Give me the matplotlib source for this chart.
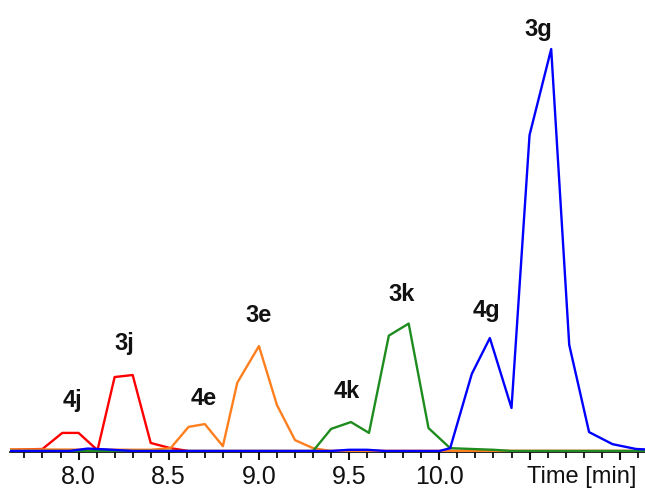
import matplotlib
matplotlib.use("Agg")
import matplotlib.pyplot as plt
from matplotlib.ticker import MultipleLocator, FixedLocator, FixedFormatter

plt.rcParams['font.family'] = ['Liberation Sans', 'DejaVu Sans']

# Extracted ion chromatograms (relative intensity, % of largest peak)
t_red = [7.62, 7.80, 7.91, 8.00, 8.105, 8.20, 8.30, 8.40, 8.51, 8.61, 11.14]
i_red = [0.3, 0.5, 4.5, 4.5, 0.2, 18.4, 18.9, 2.0, 0.7, 0.0, 0.0]

t_orange = [7.62, 8.40, 8.51, 8.61, 8.70, 8.80, 8.88, 9.00, 9.10, 9.20, 9.30, 9.40, 11.14]
i_orange = [0.4, 0.3, 0.7, 6.0, 6.7, 1.2, 17.0, 26.1, 11.4, 2.7, 0.7, 0.0, 0.0]

t_green = [7.62, 9.30, 9.40, 9.51, 9.61, 9.72, 9.83, 9.94, 10.06, 10.30, 10.40, 11.14]
i_green = [0.0, 0.0, 5.5, 7.2, 4.5, 28.7, 31.7, 5.7, 0.7, 0.3, 0.0, 0.0]

t_blue = [7.62, 7.95, 8.05, 8.15, 8.30, 9.40, 9.50, 9.60, 9.70, 10.00, 10.06,
          10.18, 10.28, 10.40, 10.50, 10.62, 10.72, 10.83, 10.96, 11.09, 11.14]
i_blue = [0.0, 0.0, 0.6, 0.4, 0.0, 0.0, 0.3, 0.3, 0.0, 0.0, 0.7,
          19.2, 28.1, 10.7, 78.6, 100.0, 26.4, 4.7, 1.7, 0.5, 0.4]

# Peak annotations: label, retention time, label height
peak_labels = ["4j", "3j", "4e", "3e", "4k", "3k", "4g", "3g"]
peak_x = [7.967, 8.255, 8.692, 8.997, 9.484, 9.789, 10.26, 10.547]
peak_y = [10.9, 25.1, 11.4, 32.1, 13.2, 37.3, 33.3, 103.2]

major_ticks = [7.5, 8.0, 8.5, 9.0, 9.5, 10.0, 10.5, 11.0]
tick_text = ["", "8.0", "8.5", "9.0", "9.5", "10.0", "", ""]

fig = plt.figure(figsize=(6.45, 4.91), dpi=100)
ax = fig.add_axes([10 / 645, (491 - 452) / 491, 635 / 645, 452 / 491])

lw = 1.7
ax.plot(t_red, i_red, color="#ff0000", lw=lw)
ax.plot(t_orange, i_orange, color="#ff7f1e", lw=lw)
ax.plot(t_green, i_green, color="#1e8c1e", lw=lw)
ax.plot(t_blue, i_blue, color="#0000ff", lw=lw)

for lab, x, y in zip(peak_labels, peak_x, peak_y):
    ax.text(x, y, lab, ha="center", va="baseline", fontsize=17,
            fontweight="bold", color="#111111")

ax.set_xlim(7.62, 11.14)
ax.set_ylim(-0.25, 112.2)

for side in ("left", "right", "top"):
    ax.spines[side].set_visible(False)
ax.spines["bottom"].set_linewidth(1.2)
ax.spines["bottom"].set_zorder(0.5)

ax.xaxis.set_major_locator(FixedLocator(major_ticks))
ax.xaxis.set_major_formatter(FixedFormatter(tick_text))
ax.xaxis.set_minor_locator(MultipleLocator(0.1))
ax.tick_params(axis="x", which="major", length=6, width=1.5, labelsize=18,
               pad=3, direction="out", colors="#111111")
ax.tick_params(axis="x", which="minor", length=4, width=1.3, direction="out",
               colors="#111111")
ax.set_yticks([])

ax.text(0.901, -0.068, "Time [min]", transform=ax.transAxes, ha="center",
        va="baseline", fontsize=17, color="#111111")

fig.savefig("out.png", dpi=100)
